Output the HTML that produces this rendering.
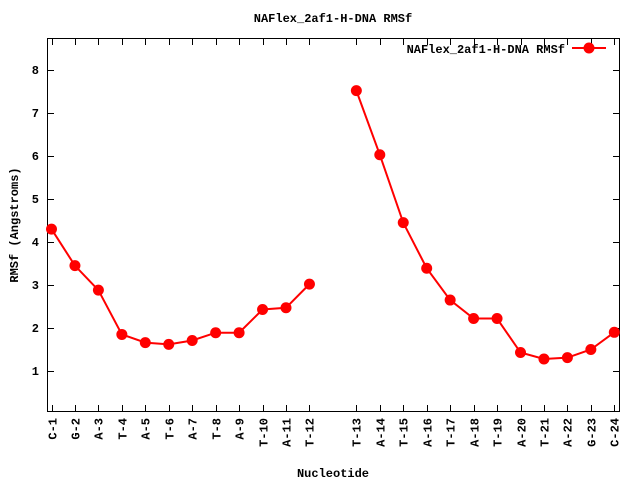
<!DOCTYPE html>
<html><head><style>body{margin:0;background:#fff}svg{display:block}text{font-family:"Liberation Mono",monospace;font-weight:bold;font-size:12px;fill:#000}</style></head><body>
<svg width="640" height="480" xmlns="http://www.w3.org/2000/svg">
<rect width="640" height="480" fill="#fff"/>
<text x="333" y="22" text-anchor="middle">NAFlex_2af1-H-DNA RMSf</text>
<text x="333" y="477" text-anchor="middle">Nucleotide</text>
<text transform="translate(18,225) rotate(-90)" text-anchor="middle">RMSf (Angstroms)</text>
<rect x="47.5" y="38.5" width="572" height="373" fill="none" stroke="#000"/>
<path stroke="#000" fill="none" d="M47.5 371.5h6.5M47.5 328.5h6.5M47.5 285.5h6.5M47.5 242.5h6.5M47.5 199.5h6.5M47.5 156.5h6.5M47.5 113.5h6.5M47.5 70.5h6.5
M613 371.5h6.5M613 328.5h6.5M613 285.5h6.5M613 242.5h6.5M613 199.5h6.5M613 156.5h6.5M613 113.5h6.5M613 70.5h6.5
M52.5 411.5v-6.5M75.5 411.5v-6.5M98.5 411.5v-6.5M122.5 411.5v-6.5M145.5 411.5v-6.5M169.5 411.5v-6.5M192.5 411.5v-6.5M216.5 411.5v-6.5M239.5 411.5v-6.5M263.5 411.5v-6.5M286.5 411.5v-6.5M309.5 411.5v-6.5M356.5 411.5v-6.5M380.5 411.5v-6.5M403.5 411.5v-6.5M427.5 411.5v-6.5M450.5 411.5v-6.5M474.5 411.5v-6.5M497.5 411.5v-6.5M521.5 411.5v-6.5M544.5 411.5v-6.5M567.5 411.5v-6.5M591.5 411.5v-6.5M614.5 411.5v-6.5
M52.5 38.5v6.5M75.5 38.5v6.5M98.5 38.5v6.5M122.5 38.5v6.5M145.5 38.5v6.5M169.5 38.5v6.5M192.5 38.5v6.5M216.5 38.5v6.5M239.5 38.5v6.5M263.5 38.5v6.5M286.5 38.5v6.5M309.5 38.5v6.5M356.5 38.5v6.5M380.5 38.5v6.5M403.5 38.5v6.5M427.5 38.5v6.5M450.5 38.5v6.5M474.5 38.5v6.5M497.5 38.5v6.5M521.5 38.5v6.5M544.5 38.5v6.5M567.5 38.5v6.5M591.5 38.5v6.5M614.5 38.5v6.5"/>
<g text-anchor="end">
<text x="39" y="375">1</text><text x="39" y="332">2</text><text x="39" y="289">3</text><text x="39" y="246">4</text><text x="39" y="203">5</text><text x="39" y="160">6</text><text x="39" y="117">7</text><text x="39" y="74">8</text>
<text transform="translate(56.5,418) rotate(-90)">C-1</text>
<text transform="translate(79.5,418) rotate(-90)">G-2</text>
<text transform="translate(102.5,418) rotate(-90)">A-3</text>
<text transform="translate(126.5,418) rotate(-90)">T-4</text>
<text transform="translate(149.5,418) rotate(-90)">A-5</text>
<text transform="translate(173.5,418) rotate(-90)">T-6</text>
<text transform="translate(196.5,418) rotate(-90)">A-7</text>
<text transform="translate(220.5,418) rotate(-90)">T-8</text>
<text transform="translate(243.5,418) rotate(-90)">A-9</text>
<text transform="translate(267.5,418) rotate(-90)">T-10</text>
<text transform="translate(290.5,418) rotate(-90)">A-11</text>
<text transform="translate(313.5,418) rotate(-90)">T-12</text>
<text transform="translate(360.5,418) rotate(-90)">T-13</text>
<text transform="translate(384.5,418) rotate(-90)">A-14</text>
<text transform="translate(407.5,418) rotate(-90)">T-15</text>
<text transform="translate(431.5,418) rotate(-90)">A-16</text>
<text transform="translate(454.5,418) rotate(-90)">T-17</text>
<text transform="translate(478.5,418) rotate(-90)">A-18</text>
<text transform="translate(501.5,418) rotate(-90)">T-19</text>
<text transform="translate(525.5,418) rotate(-90)">A-20</text>
<text transform="translate(548.5,418) rotate(-90)">T-21</text>
<text transform="translate(571.5,418) rotate(-90)">A-22</text>
<text transform="translate(595.5,418) rotate(-90)">G-23</text>
<text transform="translate(618.5,418) rotate(-90)">C-24</text>
</g>
<g fill="none" stroke="#f00" stroke-width="2">
<polyline points="51.5,229.1 74.95,265.65 98.4,290.16 121.85,334.45 145.3,342.62 168.75,344.34 192.2,340.47 215.65,332.73 239.1,332.73 262.55,309.51 286,307.79 309.45,284.14"/>
<polyline points="356.35,90.64 379.8,154.71 403.25,222.65 426.7,268.23 450.15,300.05 473.6,318.54 497.05,318.54 520.5,352.51 543.95,358.96 567.4,357.67 590.85,349.5 614.3,332.3"/>
</g>
<g fill="#f00">
<circle cx="51.5" cy="229.1" r="5.5"/><circle cx="74.95" cy="265.65" r="5.5"/><circle cx="98.4" cy="290.16" r="5.5"/><circle cx="121.85" cy="334.45" r="5.5"/><circle cx="145.3" cy="342.62" r="5.5"/><circle cx="168.75" cy="344.34" r="5.5"/><circle cx="192.2" cy="340.47" r="5.5"/><circle cx="215.65" cy="332.73" r="5.5"/><circle cx="239.1" cy="332.73" r="5.5"/><circle cx="262.55" cy="309.51" r="5.5"/><circle cx="286" cy="307.79" r="5.5"/><circle cx="309.45" cy="284.14" r="5.5"/>
<circle cx="356.35" cy="90.64" r="5.5"/><circle cx="379.8" cy="154.71" r="5.5"/><circle cx="403.25" cy="222.65" r="5.5"/><circle cx="426.7" cy="268.23" r="5.5"/><circle cx="450.15" cy="300.05" r="5.5"/><circle cx="473.6" cy="318.54" r="5.5"/><circle cx="497.05" cy="318.54" r="5.5"/><circle cx="520.5" cy="352.51" r="5.5"/><circle cx="543.95" cy="358.96" r="5.5"/><circle cx="567.4" cy="357.67" r="5.5"/><circle cx="590.85" cy="349.5" r="5.5"/><circle cx="614.3" cy="332.3" r="5.5"/>
</g>
<text x="565" y="53" text-anchor="end">NAFlex_2af1-H-DNA RMSf</text>
<line x1="572" y1="48" x2="606" y2="48" stroke="#f00" stroke-width="2"/>
<circle cx="589" cy="48" r="5.5" fill="#f00"/>
</svg>
</body></html>
